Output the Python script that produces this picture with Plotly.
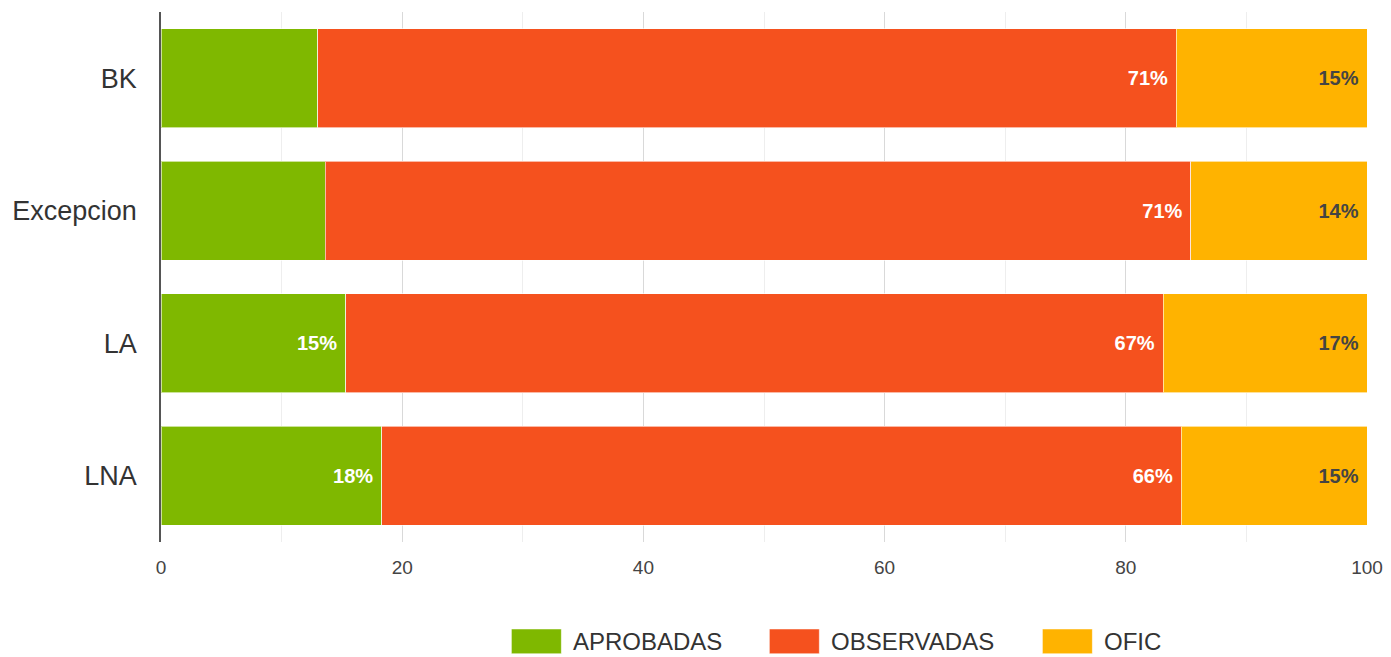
import plotly.graph_objects as go

# categories (top to bottom)
categorias = ["BK", "Excepcion", "LA", "LNA"]

# shares per category (percent)
aprobadas = [13.0, 13.6, 15.3, 18.3]
observadas = [71.2, 71.8, 67.8, 66.3]
ofic = [15.8, 14.6, 16.9, 15.4]

# labels printed inside the bars
lbl_aprobadas = ["", "", "15%", "18%"]
lbl_observadas = ["71%", "71%", "67%", "66%"]
lbl_ofic = ["15%", "14%", "17%", "15%"]

series = [
    ("APROBADAS", aprobadas, lbl_aprobadas, "#7FB800", "white"),
    ("OBSERVADAS", observadas, lbl_observadas, "#F5511E", "white"),
    ("OFIC", ofic, lbl_ofic, "#FFB300", "#444444"),
]

FONT = "Liberation Sans, Arial, sans-serif"

fig = go.Figure()
for name, vals, lbls, color, tcolor in series:
    fig.add_trace(go.Bar(
        y=categorias, x=vals, name=name, orientation="h",
        marker=dict(color=color, line=dict(color="rgba(255,255,255,0.6)", width=1)),
        text=lbls, texttemplate="%{text}\u00a0", textposition="inside", insidetextanchor="end",
        textfont=dict(family=FONT, size=20, color=tcolor, weight="bold"),
        constraintext="none", showlegend=False,
        hovertemplate="%{y}: %{x}<extra>" + name + "</extra>",
    ))

# legend drawn by hand so the swatches are wide rectangles like the original
legend_pos = [0.2905, 0.5044, 0.7308]   # left edge of each swatch (paper units)
sw_w, y_top, y_bot = 0.0415, -0.164, -0.211
for (name, _, _, color, _), x0 in zip(series, legend_pos):
    fig.add_shape(type="rect", xref="paper", yref="paper",
                  x0=x0, x1=x0 + sw_w, y0=y_bot, y1=y_top,
                  fillcolor=color, line=dict(color="rgba(255,255,255,0.6)", width=1))
    fig.add_annotation(xref="paper", yref="paper", x=x0 + sw_w + 0.008,
                       y=(y_top + y_bot) / 2, text=name, showarrow=False,
                       xanchor="left", yanchor="middle",
                       font=dict(family=FONT, size=24, color="#333333"))

fig.update_layout(
    barmode="stack",
    bargap=0.25,
    width=1383, height=649,
    margin=dict(l=153, r=24, t=4, b=115),
    paper_bgcolor="white", plot_bgcolor="white",
    font=dict(family=FONT, color="#333333"),
    showlegend=False,
    xaxis=dict(
        range=[0, 100], dtick=20, tick0=0,
        showgrid=True, gridcolor="#D9D9D9", gridwidth=1,
        minor=dict(dtick=10, showgrid=True, gridcolor="#EEEEEE"),
        zeroline=False, showline=False,
        tickfont=dict(family=FONT, size=19, color="#444444"),
        ticks="", ticklabelstandoff=12,
    ),
    yaxis=dict(
        autorange="reversed",
        showline=True, linecolor="#555555", linewidth=1.5,
        tickfont=dict(family=FONT, size=27, color="#333333"),
        ticks="", ticklabelstandoff=17,
    ),
)

fig.write_html("out.html")
